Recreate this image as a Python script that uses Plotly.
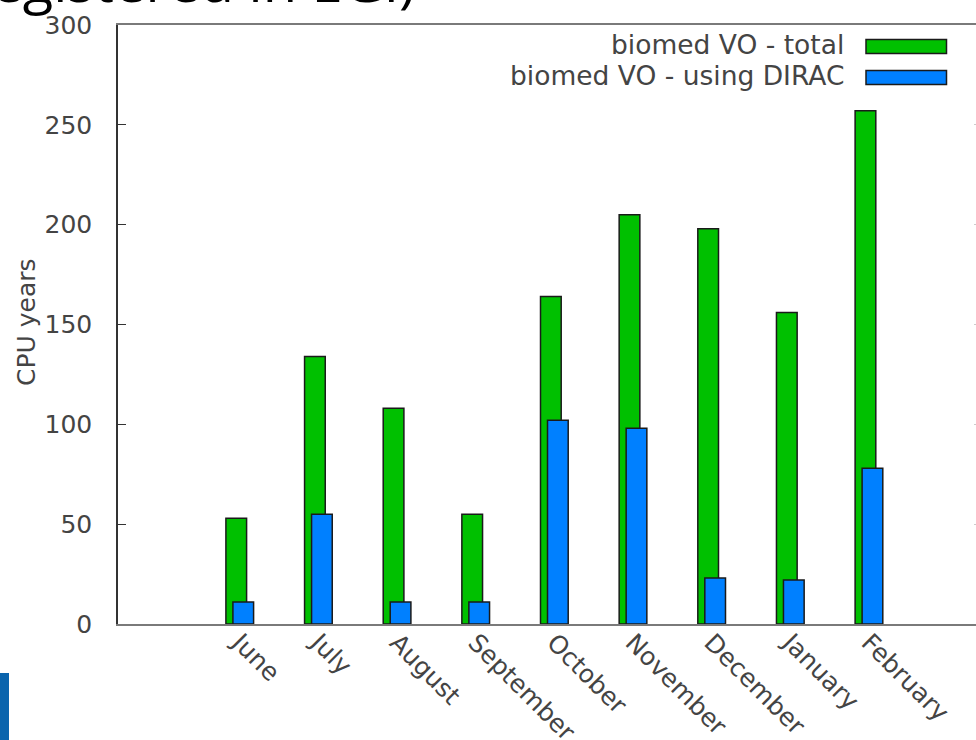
import plotly.graph_objects as go

months = ["June", "July", "August", "September", "October", "November",
          "December", "January", "February"]
total_cpu = [53, 134, 108, 55, 164, 205, 198, 156, 257]
dirac_cpu = [11, 55, 11, 11, 102, 98, 23, 22, 78]
series_names = ["biomed VO - total", "biomed VO - using DIRAC"]
y_ticks = [0, 50, 100, 150, 200, 250, 300]

GREEN = "#00c000"
BLUE = "#0080ff"
EDGE = "#1a1a1a"
TXT = "#444444"
FONT = "DejaVu Sans"

W, H = 976, 740
L, T, R, B = 118, 25, 0, 740 - 624
PW, PH = W - L - R, H - T - B


def px(x):
    return (x - L) / PW


def py(y):
    return (H - B - y) / PH


fig = go.Figure()
fig.add_trace(go.Bar(
    x=months, y=total_cpu, name=series_names[0],
    width=0.263, offset=-0.175,
    marker=dict(color=GREEN, line=dict(color=EDGE, width=1.5)),
    showlegend=False,
))
fig.add_trace(go.Bar(
    x=months, y=dirac_cpu, name=series_names[1],
    width=0.263, offset=-0.086,
    marker=dict(color=BLUE, line=dict(color=EDGE, width=1.5)),
    showlegend=False,
))
# invisible trace to activate the right-hand mirror ticks
fig.add_trace(go.Scatter(x=[months[0]], y=[0], yaxis="y2", mode="markers",
                         marker=dict(opacity=0), showlegend=False,
                         hoverinfo="skip"))

fig.update_layout(
    width=W, height=H,
    margin=dict(l=L, r=R, t=T, b=B, pad=0),
    paper_bgcolor="white", plot_bgcolor="white",
    barmode="overlay",
    font=dict(family=FONT, size=25, color=TXT),
    xaxis=dict(
        type="category", range=[-1.547, 9.362], automargin=False,
        showgrid=False, zeroline=False,
        showline=True, linecolor="#7a7a7a", linewidth=2, mirror=True,
        ticks="", tickangle=45,
        tickfont=dict(family=FONT, size=25, color=TXT),
        ticklabelstandoff=-8,
    ),
    yaxis=dict(
        range=[0, 300], tickvals=y_ticks, automargin=False,
        showgrid=False, zeroline=False,
        showline=True, linecolor="#333333", linewidth=1.5,
        ticks="inside", ticklen=8, tickcolor="#333333", tickwidth=1,
        tickfont=dict(family=FONT, size=25, color=TXT),
        ticklabelstandoff=19,
    ),
    yaxis2=dict(
        overlaying="y", side="right", range=[0, 300], tickvals=y_ticks,
        automargin=False,
        showgrid=False, zeroline=False, showline=False,
        showticklabels=False, ticks="inside", ticklen=2,
        tickcolor="#cccccc", tickwidth=1,
    ),
)

annotations = [
    dict(text="CPU years", textangle=-90, x=px(26), y=py(322),
         xref="paper", yref="paper", xanchor="center", yanchor="middle",
         showarrow=False, font=dict(family=FONT, size=25, color=TXT)),
    dict(text=series_names[0], x=px(846), y=py(45), xref="paper", yref="paper",
         xanchor="right", yanchor="middle", showarrow=False,
         font=dict(family=FONT, size=26.5, color=TXT)),
    dict(text=series_names[1], x=px(846), y=py(75), xref="paper", yref="paper",
         xanchor="right", yanchor="middle", showarrow=False,
         font=dict(family=FONT, size=26.5, color=TXT)),
    dict(text="(CPU time of users registered in EGI)", x=px(418), y=py(20),
         xref="paper", yref="paper", xanchor="right", yanchor="bottom",
         showarrow=False, font=dict(family="Open Sans", size=56, color="#000000")),
]
fig.update_layout(annotations=annotations)

shapes = [
    dict(type="rect", xref="paper", yref="paper",
         x0=px(-2), x1=px(9), y0=py(742), y1=py(673),
         fillcolor="#0a64ad", line=dict(width=0), layer="above"),
    dict(type="rect", xref="paper", yref="paper",
         x0=px(866), x1=px(946.5), y0=py(53.5), y1=py(39.5),
         fillcolor=GREEN, line=dict(color=EDGE, width=1.5)),
    dict(type="rect", xref="paper", yref="paper",
         x0=px(866), x1=px(946.5), y0=py(84.5), y1=py(70.5),
         fillcolor=BLUE, line=dict(color=EDGE, width=1.5)),
]
fig.update_layout(shapes=shapes)

fig.write_html("out.html", config={"displayModeBar": False},
               post_script="document.body.style.margin = '0';")
